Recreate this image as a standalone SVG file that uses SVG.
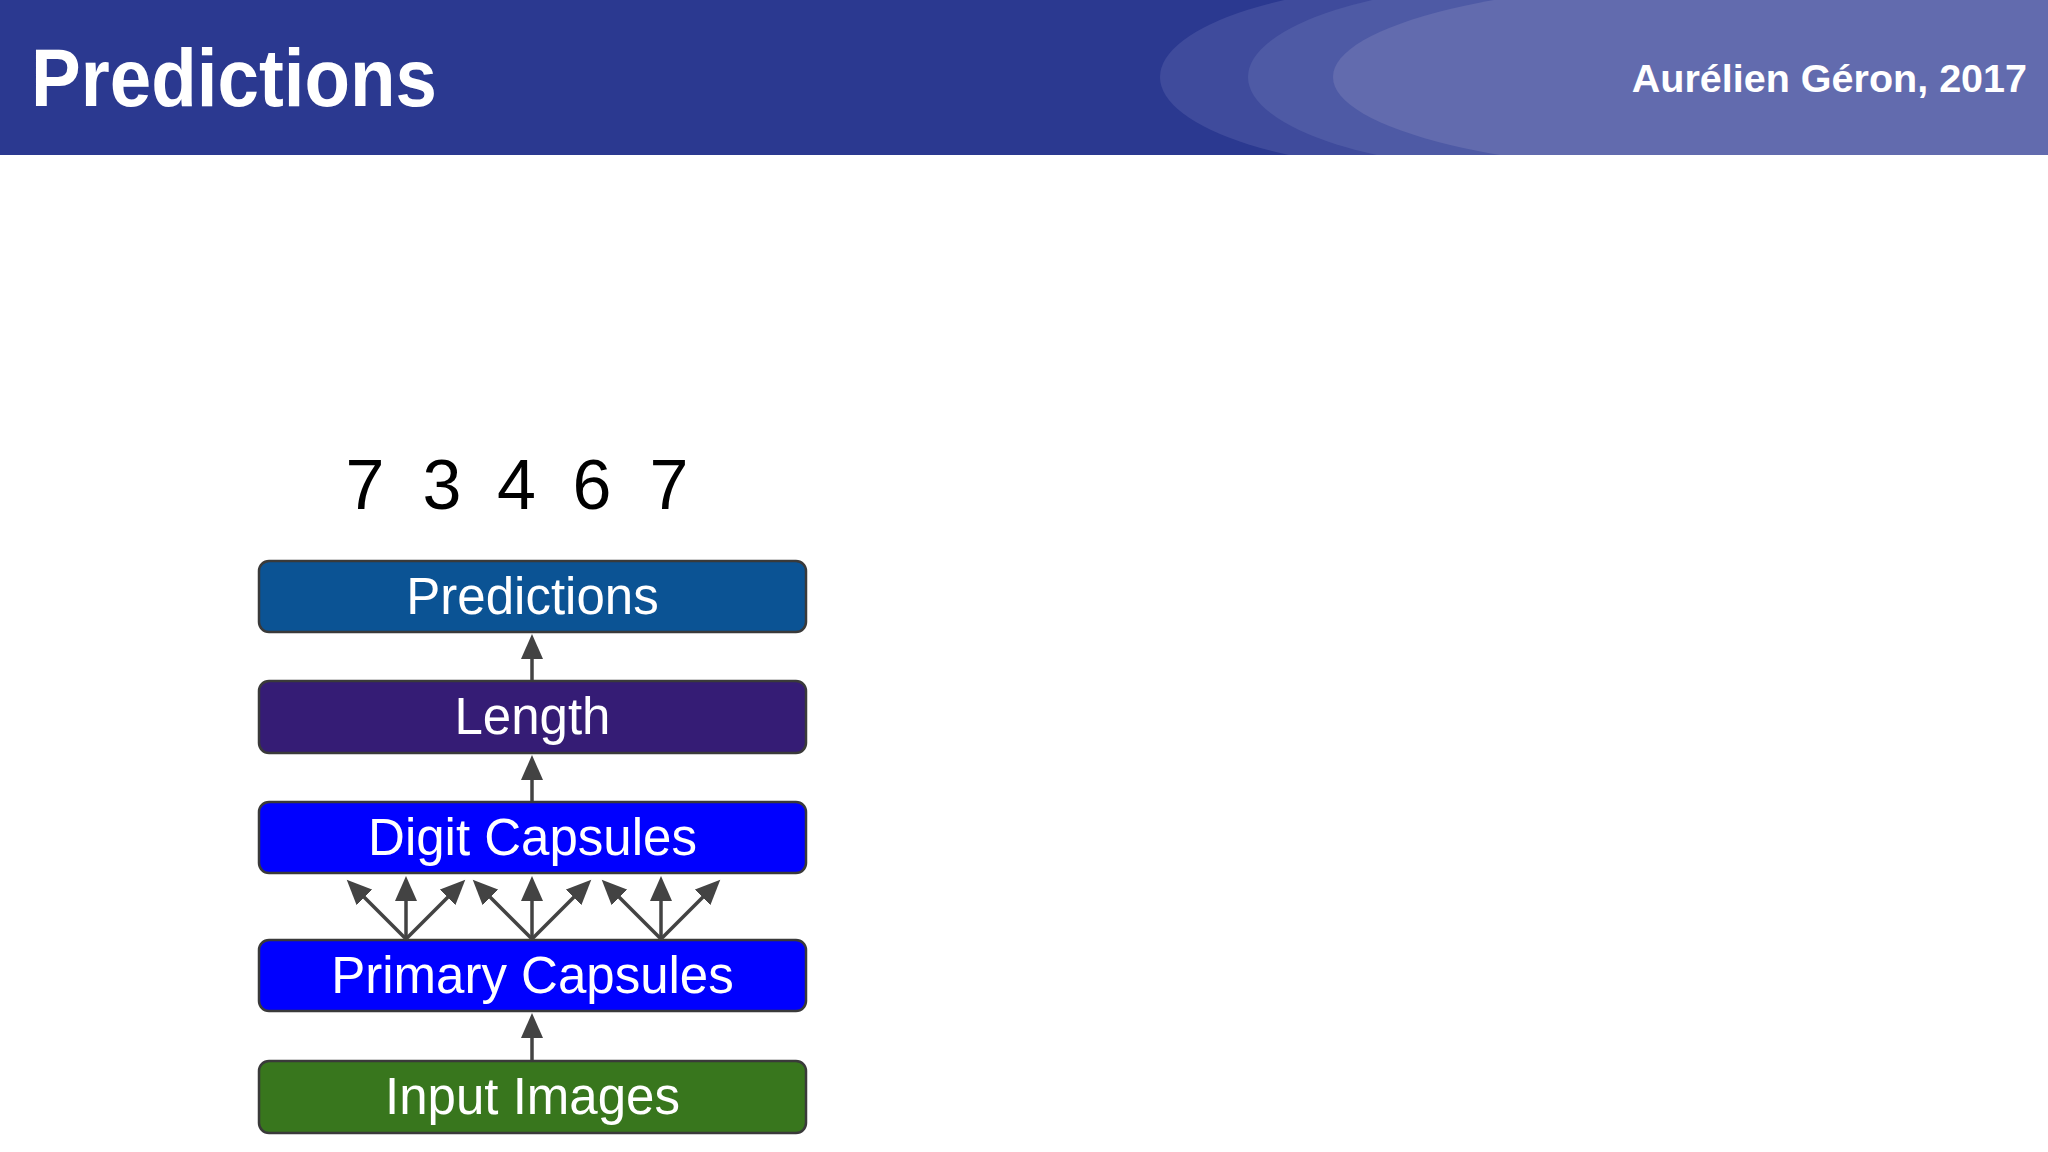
<svg xmlns="http://www.w3.org/2000/svg" width="2048" height="1152" viewBox="0 0 2048 1152">
  <style>
    .box { stroke: #3a3a3a; stroke-width: 2.5; }
    .lbl { font-family: "Liberation Sans", Arial, sans-serif; font-size: 51px; fill: #ffffff; text-anchor: middle; }
    .conn line { stroke: #434343; stroke-width: 3.5; marker-end: url(#ah); }
    .digits { font-family: "Liberation Sans", Arial, sans-serif; font-size: 70px; fill: #000000; }
  </style>
  <defs>
    <marker id="ah" markerUnits="userSpaceOnUse" markerWidth="26" markerHeight="22" viewBox="0 0 26 22" refX="14" refY="11" orient="auto">
      <path d="M0,0 L25,11 L0,22 z" fill="#434343"/>
    </marker>
    <clipPath id="hdrclip"><rect x="0" y="0" width="2048" height="155"/></clipPath>
  </defs>
  <rect width="2048" height="1152" fill="#ffffff"/>
  <g id="header">
    <rect x="0" y="0" width="2048" height="155" fill="#2b3990"/>
    <g clip-path="url(#hdrclip)">
      <ellipse cx="1460" cy="77" rx="300" ry="95" fill="#3f4b9c"/>
      <ellipse cx="1548" cy="77" rx="300" ry="95" fill="#4e5aa5"/>
      <ellipse cx="1733" cy="77" rx="400" ry="96" fill="#626bae"/>
      <rect x="1733" y="0" width="315" height="155" fill="#626bae"/>
    </g>
    <text x="31" y="106" font-family="Liberation Sans, Arial, sans-serif" font-weight="bold" font-size="81" fill="#ffffff" textLength="406" lengthAdjust="spacingAndGlyphs">Predictions</text>
    <text x="2027" y="92" font-family="Liberation Sans, Arial, sans-serif" font-weight="bold" font-size="39.5" fill="#ffffff" text-anchor="end">Aurélien Géron, 2017</text>
  </g>
  <g id="digits">
    <text class="digits" y="509"><tspan x="345.5">7</tspan><tspan x="422.5">3</tspan><tspan x="497">4</tspan><tspan x="572.5">6</tspan><tspan x="649.5">7</tspan></text>
  </g>
  <g id="node-predictions">
    <rect class="box" x="259" y="561" width="547" height="71" rx="10" fill="#0b5394"/>
    <text class="lbl" x="532.5" y="614">Predictions</text>
  </g>
  <g id="node-length">
    <rect class="box" x="259" y="681" width="547" height="72" rx="10" fill="#351c75"/>
    <text class="lbl" x="532.5" y="734">Length</text>
  </g>
  <g id="node-digit">
    <rect class="box" x="259" y="802" width="547" height="71" rx="10" fill="#0000ff"/>
    <text class="lbl" x="532.5" y="855">Digit Capsules</text>
  </g>
  <g id="node-primary">
    <rect class="box" x="259" y="940" width="547" height="71" rx="10" fill="#0000ff"/>
    <text class="lbl" x="532.5" y="993">Primary Capsules</text>
  </g>
  <g id="node-input">
    <rect class="box" x="259" y="1061" width="547" height="72" rx="10" fill="#38761d"/>
    <text class="lbl" x="532.5" y="1114">Input Images</text>
  </g>
  <g id="connectors" class="conn">
    <line x1="532" y1="680" x2="532" y2="645"/>
    <line x1="532" y1="801" x2="532" y2="766"/>
    <line x1="532" y1="1060" x2="532" y2="1024"/>
    <line x1="406" y1="939" x2="406" y2="887"/>
    <line x1="406" y1="939" x2="354.5" y2="887.5"/>
    <line x1="406" y1="939" x2="457.5" y2="887.5"/>
    <line x1="532" y1="939" x2="532" y2="887"/>
    <line x1="532" y1="939" x2="480.5" y2="887.5"/>
    <line x1="532" y1="939" x2="583.5" y2="887.5"/>
    <line x1="661" y1="939" x2="661" y2="887"/>
    <line x1="661" y1="939" x2="609.5" y2="887.5"/>
    <line x1="661" y1="939" x2="712.5" y2="887.5"/>
  </g>
</svg>
